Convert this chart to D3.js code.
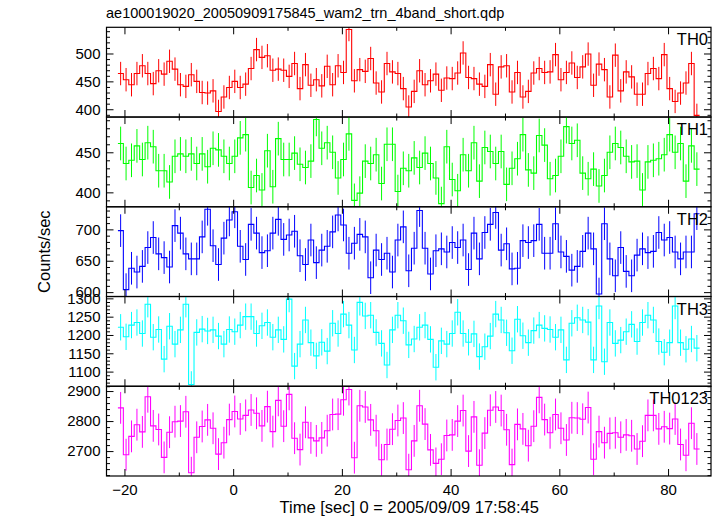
<!DOCTYPE html>
<html><head><meta charset="utf-8">
<script src="https://cdn.jsdelivr.net/npm/d3@7/dist/d3.min.js"></script>
<style>
body{margin:0;background:#fff}
text{font-family:"Liberation Sans",Arial,Helvetica,sans-serif;fill:#000}
</style>
</head><body>
<svg id="c" width="717" height="516"></svg>
<script>
const titleText = "ae100019020_20050909175845_wam2_trn_4band_short.qdp";
const xLabel = "Time [sec] 0 = 2005/09/09 17:58:45";
const yLabel = "Counts/sec";
const panelNames = ["TH0", "TH1", "TH2", "TH3", "TH0123"];
const panelColors = ["#ff0000", "#00ff00", "#0000ff", "#00ffff", "#ff00ff"];
const timeStart = -20.7;   // centre of first 1-s bin
const binSize = 1.0;
const xTicksMajor = [-20, 0, 20, 40, 60, 80];
const xTicksMinor = [-10, 10, 30, 50, 70];

const th0 = [464,453,444,464,478,464,446,469,463,486,472,444,441,462,450,430,429,433,396,422,439,450,439,445,473,507,493,496,470,472,470,459,482,437,480,443,453,442,477,444,478,466,543,451,471,468,491,447,431,482,467,464,437,404,432,469,444,451,463,434,456,455,465,501,457,455,445,441,480,427,476,478,431,466,422,432,465,473,466,467,498,453,466,483,457,476,499,443,481,471,422,497,433,467,458,427,427,464,473,455,498,437,414,429,447,482,389];
const th1 = [461,436,440,458,441,462,457,427,427,413,445,448,445,448,436,448,432,455,453,445,436,445,468,472,406,421,403,452,407,467,441,441,449,435,431,439,491,455,462,450,418,441,473,390,399,439,436,447,411,460,460,401,430,427,443,431,449,436,418,386,457,416,402,447,427,462,414,456,451,436,451,410,430,442,472,428,424,471,459,417,421,445,482,461,465,424,417,429,408,421,450,461,456,445,438,439,403,438,440,442,447,472,450,461,414,458,429];
const th2 = [698,604,638,632,641,671,687,661,655,640,706,694,661,653,653,688,732,674,644,686,715,728,673,652,708,694,663,666,694,716,684,691,697,658,644,683,647,667,673,696,723,707,662,678,692,688,623,667,652,662,632,683,704,634,670,730,670,629,666,669,664,679,671,683,636,694,653,695,708,727,667,677,637,638,682,679,682,708,662,662,709,664,657,635,641,665,694,669,597,709,653,626,671,633,626,659,669,663,665,695,683,687,664,653,664,664,725];
const th3 = [1221,1195,1227,1234,1204,1284,1194,1215,1134,1224,1175,1214,1284,1065,1207,1216,1211,1214,1197,1175,1215,1209,1227,1250,1250,1204,1225,1234,1194,1214,1188,1298,1115,1175,1241,1179,1143,1180,1156,1232,1204,1257,1227,1159,1289,1252,1254,1207,1177,1118,1214,1254,1239,1173,1189,1221,1227,1188,1112,1184,1175,1204,1262,1204,1180,1203,1141,1168,1197,1257,1241,1206,1157,1243,1198,1179,1212,1227,1218,1215,1194,1214,1132,1232,1247,1241,1235,1132,1279,1127,1234,1177,1186,1209,1229,1182,1234,1254,1241,1182,1153,1179,1279,1179,1161,1189,1164];
const th0123 = [2844,2688,2749,2788,2764,2881,2784,2772,2679,2763,2798,2800,2831,2628,2746,2782,2804,2776,2690,2728,2805,2832,2807,2819,2837,2826,2784,2848,2765,2869,2783,2889,2743,2705,2796,2744,2734,2744,2768,2822,2823,2871,2905,2678,2851,2847,2804,2768,2671,2722,2773,2802,2810,2638,2734,2851,2790,2704,2659,2673,2752,2754,2800,2835,2700,2814,2653,2760,2836,2847,2835,2771,2655,2789,2774,2718,2783,2879,2805,2761,2822,2776,2737,2811,2810,2806,2845,2673,2765,2728,2759,2761,2746,2754,2751,2707,2733,2819,2819,2774,2781,2775,2807,2722,2686,2793,2707];
const panelErrors = [21, 21, 26, 36, 53];

const yDomains = [[386, 547], [382, 494], [593, 736], [1060, 1305], [2617, 2916]];
const yTicksMajor = [[400, 450, 500], [400, 450], [600, 650, 700], [1100, 1150, 1200, 1250, 1300], [2700, 2800, 2900]];
const yMinorStep = [10, 10, 10, 10, 20];

const series = [th0, th1, th2, th3, th0123];

const svg = d3.select("#c");
const W = 717, H = 516;
const mL = 106.5, mR = 711, mT = 27.3, panelH = 89.74;

const x = d3.scaleLinear().domain([-23.3, 87.9]).range([mL, mR]);

svg.append("rect").attr("width", W).attr("height", H).attr("fill", "#fff");

svg.append("text").attr("x", 106).attr("y", 18).attr("font-size", 14.5).text(titleText);

series.forEach((vals, p) => {
  const y0 = mT + p * panelH, y1 = y0 + panelH;
  const y = d3.scaleLinear().domain(yDomains[p]).range([y1, y0]);
  const g = svg.append("g");
  const clipId = "clip" + p;
  svg.append("clipPath").attr("id", clipId).append("rect")
    .attr("x", mL).attr("y", y0).attr("width", mR - mL).attr("height", panelH);
  const data = vals.map((v, i) => ({ t: timeStart + i * binSize, v }));
  const gd = g.append("g").attr("clip-path", `url(#${clipId})`);
  gd.selectAll("line.err").data(data).enter().append("line")
    .attr("x1", d => x(d.t)).attr("x2", d => x(d.t))
    .attr("y1", d => y(d.v - panelErrors[p])).attr("y2", d => y(d.v + panelErrors[p]))
    .attr("stroke", panelColors[p]).attr("stroke-width", 1);
  const pts = data.map(d => [d.t - binSize / 2, d.v]);
  pts.push([data[data.length - 1].t + binSize / 2, data[data.length - 1].v]);
  gd.append("path").attr("d", d3.line().x(d => x(d[0])).y(d => y(d[1])).curve(d3.curveStepAfter)(pts))
    .attr("fill", "none").attr("stroke", panelColors[p]).attr("stroke-width", 1.1);

  const minorY = d3.range(Math.ceil(yDomains[p][0] / yMinorStep[p]) * yMinorStep[p], yDomains[p][1], yMinorStep[p])
    .filter(v => !yTicksMajor[p].includes(v));
  const styleAxis = sel => { sel.select(".domain").remove(); sel.selectAll("line").attr("stroke", "#000"); };
  g.append("g").attr("transform", `translate(${mL},0)`)
    .call(d3.axisLeft(y).tickValues(yTicksMajor[p]).tickSize(-7).tickPadding(6).tickFormat(d3.format("d")))
    .call(styleAxis).selectAll("text").attr("font-size", 15).attr("font-family", "Liberation Sans, Arial, sans-serif").attr("fill", "#000");
  g.append("g").attr("transform", `translate(${mL},0)`)
    .call(d3.axisLeft(y).tickValues(minorY).tickSize(-3.5).tickFormat(""))
    .call(styleAxis);
  g.append("g").attr("transform", `translate(${mR},0)`)
    .call(d3.axisRight(y).tickValues(yTicksMajor[p]).tickSize(-7).tickFormat(""))
    .call(styleAxis);
  g.append("g").attr("transform", `translate(${mR},0)`)
    .call(d3.axisRight(y).tickValues(minorY).tickSize(-3.5).tickFormat(""))
    .call(styleAxis);
  g.append("g").attr("transform", `translate(0,${y0})`)
    .call(d3.axisTop(x).tickValues(xTicksMajor).tickSize(-7).tickFormat(""))
    .call(styleAxis);
  g.append("g").attr("transform", `translate(0,${y0})`)
    .call(d3.axisTop(x).tickValues(xTicksMinor).tickSize(-3.5).tickFormat(""))
    .call(styleAxis);
  const bx = g.append("g").attr("transform", `translate(0,${y1})`)
    .call(d3.axisBottom(x).tickValues(xTicksMajor).tickSize(-7).tickPadding(8).tickFormat(p === 4 ? d3.format("d") : ""))
    .call(styleAxis);
  bx.selectAll("text").attr("font-size", 15).attr("font-family", "Liberation Sans, Arial, sans-serif").attr("fill", "#000");
  g.append("g").attr("transform", `translate(0,${y1})`)
    .call(d3.axisBottom(x).tickValues(xTicksMinor).tickSize(-3.5).tickFormat(""))
    .call(styleAxis);

  g.append("rect").attr("x", mL).attr("y", y0).attr("width", mR - mL).attr("height", panelH)
    .attr("fill", "none").attr("stroke", "#000").attr("stroke-width", 1.2);

  g.append("text").attr("x", mR - 3).attr("y", y0 + 18).attr("text-anchor", "end")
    .attr("font-size", 16.5).text(panelNames[p]);
});

svg.append("text").attr("transform", `translate(50,${mT + 2.5 * panelH}) rotate(-90)`)
  .attr("text-anchor", "middle").attr("font-size", 16.5).text(yLabel);
svg.append("text").attr("x", (mL + mR) / 2 + 0.5).attr("y", 513).attr("text-anchor", "middle")
  .attr("font-size", 16.5).text(xLabel);
</script>
</body></html>
